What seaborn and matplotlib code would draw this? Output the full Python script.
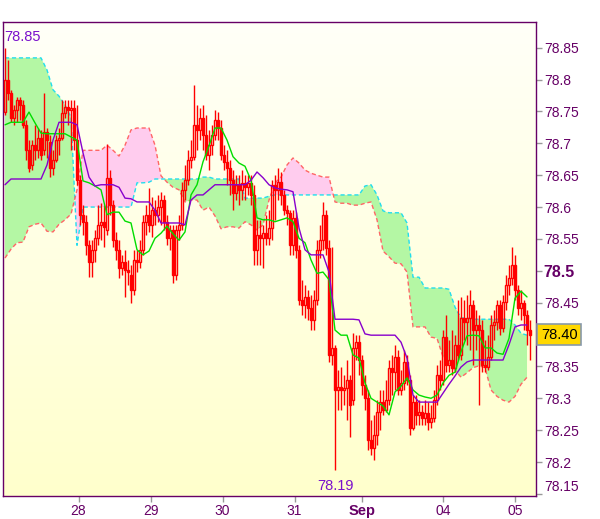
import numpy as np
import matplotlib
matplotlib.use("Agg")
import matplotlib.pyplot as plt
import matplotlib.transforms as mtransforms
from matplotlib.colors import LinearSegmentedColormap
import seaborn as sns

# hourly bars, 27 Aug - 05 Sep (bar index 0..175)
opens = [
    78.749, 78.799, 78.779, 78.740, 78.752, 78.768, 78.760, 78.729, 78.689, 78.666,
    78.697, 78.689, 78.708, 78.689, 78.718, 78.702, 78.661, 78.674, 78.705, 78.708,
    78.748, 78.757, 78.752, 78.755, 78.705, 78.642, 78.588, 78.577, 78.540, 78.514,
    78.533, 78.551, 78.572, 78.577, 78.564, 78.646, 78.603, 78.548, 78.533, 78.504,
    78.514, 78.501, 78.493, 78.470, 78.517, 78.514, 78.533, 78.577, 78.588, 78.572,
    78.595, 78.588, 78.600, 78.611, 78.577, 78.551, 78.564, 78.493, 78.564, 78.572,
    78.627, 78.642, 78.674, 78.679, 78.729, 78.721, 78.740, 78.713, 78.682, 78.697,
    78.713, 78.737, 78.724, 78.682, 78.671, 78.661, 78.642, 78.622, 78.635, 78.627,
    78.638, 78.631, 78.638, 78.619, 78.533, 78.556, 78.551, 78.559, 78.551, 78.567,
    78.635, 78.627, 78.639, 78.619, 78.595, 78.591, 78.540, 78.583, 78.533, 78.454,
    78.446, 78.459, 78.442, 78.423, 78.454, 78.533, 78.548, 78.588, 78.536, 78.368,
    78.379, 78.313, 78.318, 78.313, 78.316, 78.329, 78.297, 78.379, 78.388, 78.360,
    78.321, 78.300, 78.234, 78.222, 78.242, 78.278, 78.294, 78.282, 78.297, 78.347,
    78.341, 78.365, 78.313, 78.324, 78.357, 78.329, 78.253, 78.294, 78.274, 78.278,
    78.269, 78.277, 78.263, 78.269, 78.297, 78.336, 78.329, 78.396, 78.352, 78.360,
    78.347, 78.384, 78.368, 78.426, 78.420, 78.426, 78.446, 78.407, 78.415, 78.407,
    78.352, 78.349, 78.365, 78.415, 78.420, 78.446, 78.410, 78.451, 78.478, 78.489,
    78.509, 78.470, 78.442, 78.449, 78.431, 78.407,
]
highs = [
    78.850, 78.831, 78.784, 78.760, 78.773, 78.773, 78.768, 78.737, 78.705, 78.705,
    78.729, 78.724, 78.721, 78.779, 78.724, 78.713, 78.689, 78.713, 78.724, 78.768,
    78.768, 78.768, 78.768, 78.768, 78.760, 78.650, 78.603, 78.588, 78.548, 78.548,
    78.564, 78.603, 78.606, 78.603, 78.699, 78.658, 78.611, 78.561, 78.548, 78.525,
    78.533, 78.517, 78.509, 78.533, 78.533, 78.548, 78.588, 78.603, 78.630, 78.616,
    78.611, 78.619, 78.624, 78.619, 78.588, 78.572, 78.572, 78.572, 78.588, 78.639,
    78.666, 78.689, 78.705, 78.792, 78.760, 78.755, 78.760, 78.744, 78.721, 78.729,
    78.752, 78.749, 78.737, 78.697, 78.689, 78.674, 78.658, 78.650, 78.650, 78.658,
    78.650, 78.650, 78.650, 78.635, 78.580, 78.580, 78.572, 78.588, 78.595, 78.642,
    78.650, 78.661, 78.655, 78.627, 78.603, 78.595, 78.595, 78.592, 78.540, 78.486,
    78.478, 78.470, 78.462, 78.470, 78.548, 78.572, 78.608, 78.595, 78.548, 78.537,
    78.384, 78.344, 78.349, 78.336, 78.360, 78.336, 78.402, 78.399, 78.399, 78.368,
    78.336, 78.313, 78.266, 78.274, 78.297, 78.313, 78.313, 78.329, 78.360, 78.368,
    78.384, 78.376, 78.344, 78.376, 78.368, 78.336, 78.305, 78.305, 78.297, 78.289,
    78.297, 78.294, 78.289, 78.313, 78.352, 78.360, 78.407, 78.431, 78.391, 78.407,
    78.399, 78.454, 78.459, 78.454, 78.462, 78.470, 78.454, 78.438, 78.431, 78.423,
    78.391, 78.399, 78.431, 78.438, 78.454, 78.454, 78.462, 78.493, 78.509, 78.537,
    78.525, 78.478, 78.470, 78.454, 78.438, 78.423,
]
lows = [
    78.744, 78.768, 78.733, 78.729, 78.733, 78.737, 78.724, 78.674, 78.655, 78.658,
    78.674, 78.677, 78.674, 78.682, 78.677, 78.647, 78.650, 78.671, 78.682, 78.705,
    78.740, 78.729, 78.689, 78.689, 78.635, 78.572, 78.556, 78.525, 78.490, 78.490,
    78.514, 78.540, 78.548, 78.537, 78.556, 78.588, 78.537, 78.517, 78.489, 78.493,
    78.459, 78.478, 78.449, 78.462, 78.498, 78.504, 78.525, 78.556, 78.561, 78.553,
    78.572, 78.577, 78.572, 78.564, 78.540, 78.533, 78.481, 78.486, 78.548, 78.564,
    78.611, 78.635, 78.661, 78.674, 78.689, 78.705, 78.689, 78.674, 78.658, 78.682,
    78.705, 78.705, 78.674, 78.658, 78.635, 78.619, 78.595, 78.611, 78.603, 78.611,
    78.611, 78.619, 78.603, 78.509, 78.509, 78.509, 78.504, 78.540, 78.540, 78.548,
    78.580, 78.611, 78.603, 78.588, 78.572, 78.525, 78.525, 78.520, 78.446, 78.431,
    78.426, 78.423, 78.407, 78.407, 78.446, 78.520, 78.533, 78.525, 78.357, 78.352,
    78.187, 78.282, 78.282, 78.289, 78.266, 78.239, 78.289, 78.360, 78.336, 78.305,
    78.282, 78.219, 78.211, 78.203, 78.227, 78.250, 78.274, 78.278, 78.289, 78.305,
    78.313, 78.305, 78.305, 78.313, 78.321, 78.242, 78.250, 78.258, 78.258, 78.258,
    78.258, 78.250, 78.253, 78.263, 78.289, 78.313, 78.321, 78.341, 78.341, 78.336,
    78.341, 78.360, 78.360, 78.391, 78.384, 78.376, 78.352, 78.376, 78.289, 78.341,
    78.341, 78.344, 78.360, 78.391, 78.407, 78.399, 78.404, 78.438, 78.462, 78.478,
    78.454, 78.431, 78.423, 78.407, 78.384, 78.360,
]
closes = [
    78.799, 78.779, 78.740, 78.752, 78.768, 78.760, 78.729, 78.689, 78.661, 78.697,
    78.689, 78.708, 78.682, 78.718, 78.705, 78.661, 78.674, 78.705, 78.708, 78.748,
    78.757, 78.752, 78.755, 78.705, 78.642, 78.588, 78.577, 78.540, 78.514, 78.533,
    78.551, 78.572, 78.577, 78.569, 78.646, 78.603, 78.548, 78.533, 78.504, 78.514,
    78.501, 78.498, 78.470, 78.517, 78.514, 78.533, 78.577, 78.588, 78.572, 78.595,
    78.588, 78.600, 78.611, 78.577, 78.551, 78.564, 78.493, 78.564, 78.572, 78.627,
    78.642, 78.674, 78.679, 78.729, 78.721, 78.740, 78.713, 78.682, 78.697, 78.713,
    78.737, 78.724, 78.682, 78.671, 78.661, 78.642, 78.622, 78.635, 78.627, 78.638,
    78.631, 78.638, 78.619, 78.533, 78.556, 78.551, 78.559, 78.551, 78.567, 78.635,
    78.627, 78.639, 78.619, 78.595, 78.591, 78.540, 78.583, 78.533, 78.454, 78.446,
    78.459, 78.442, 78.423, 78.454, 78.533, 78.548, 78.588, 78.536, 78.368, 78.379,
    78.313, 78.318, 78.313, 78.316, 78.329, 78.289, 78.379, 78.388, 78.360, 78.321,
    78.300, 78.234, 78.222, 78.242, 78.278, 78.294, 78.282, 78.297, 78.347, 78.341,
    78.365, 78.313, 78.324, 78.357, 78.329, 78.253, 78.294, 78.274, 78.278, 78.269,
    78.277, 78.263, 78.269, 78.297, 78.336, 78.329, 78.396, 78.352, 78.360, 78.347,
    78.384, 78.368, 78.426, 78.420, 78.426, 78.446, 78.407, 78.415, 78.407, 78.352,
    78.349, 78.365, 78.415, 78.420, 78.446, 78.410, 78.451, 78.478, 78.489, 78.509,
    78.470, 78.442, 78.449, 78.431, 78.407, 78.400,
]

# ichimoku lines, one value every 2nd bar
tenkan = [
    78.729, 78.733, 78.733, 78.733, 78.749, 78.732, 78.716, 78.715, 78.715, 78.715,
    78.715, 78.710, 78.705, 78.641, 78.638, 78.633, 78.627, 78.588, 78.592, 78.592,
    78.578, 78.575, 78.533, 78.525, 78.531, 78.551, 78.559, 78.570, 78.558, 78.548,
    78.561, 78.619, 78.635, 78.671, 78.696, 78.724, 78.724, 78.705, 78.679, 78.669,
    78.664, 78.642, 78.583, 78.580, 78.580, 78.577, 78.580, 78.583, 78.577, 78.551,
    78.544, 78.517, 78.496, 78.498, 78.486, 78.407, 78.399, 78.399, 78.368, 78.363,
    78.324, 78.300, 78.294, 78.288, 78.274, 78.310, 78.319, 78.332, 78.313, 78.305,
    78.302, 78.300, 78.305, 78.324, 78.336, 78.341, 78.373, 78.398, 78.399, 78.398,
    78.379, 78.379, 78.371, 78.369, 78.394, 78.457, 78.468, 78.459,
]
kijun = [
    78.635, 78.644, 78.644, 78.644, 78.644, 78.644, 78.644, 78.666, 78.705, 78.733,
    78.733, 78.733, 78.729, 78.685, 78.647, 78.633, 78.635, 78.635, 78.635, 78.631,
    78.614, 78.613, 78.608, 78.608, 78.608, 78.595, 78.575, 78.575, 78.575, 78.575,
    78.572, 78.611, 78.619, 78.619, 78.627, 78.635, 78.635, 78.635, 78.635, 78.635,
    78.635, 78.642, 78.655, 78.646, 78.635, 78.630, 78.628, 78.627, 78.624, 78.567,
    78.533, 78.525, 78.525, 78.525, 78.498, 78.424, 78.424, 78.424, 78.424, 78.423,
    78.401, 78.399, 78.399, 78.399, 78.399, 78.399, 78.388, 78.363, 78.305, 78.294,
    78.294, 78.294, 78.294, 78.308, 78.322, 78.335, 78.349, 78.357, 78.360, 78.360,
    78.360, 78.360, 78.360, 78.360, 78.384, 78.412, 78.415, 78.415,
]
span_a = [
    78.834, 78.834, 78.834, 78.834, 78.834, 78.834, 78.834, 78.815, 78.784, 78.774,
    78.760, 78.741, 78.540, 78.600, 78.600, 78.600, 78.600, 78.600, 78.600, 78.600,
    78.600, 78.600, 78.638, 78.638, 78.639, 78.644, 78.644, 78.644, 78.644, 78.644,
    78.644, 78.644, 78.644, 78.647, 78.647, 78.644, 78.644, 78.644, 78.644, 78.644,
    78.614, 78.614, 78.614, 78.614, 78.617, 78.619, 78.619, 78.619, 78.619, 78.619,
    78.619, 78.619, 78.619, 78.619, 78.619, 78.619, 78.619, 78.619, 78.619, 78.619,
    78.633, 78.635, 78.619, 78.594, 78.591, 78.591, 78.591, 78.575, 78.490, 78.490,
    78.473, 78.473, 78.473, 78.473, 78.471, 78.443, 78.426, 78.426, 78.424, 78.424,
    78.424, 78.424, 78.424, 78.424, 78.424, 78.415, 78.402, 78.399,
]
span_b = [
    78.520, 78.534, 78.544, 78.545, 78.569, 78.573, 78.575, 78.562, 78.561, 78.573,
    78.580, 78.589, 78.627, 78.689, 78.689, 78.689, 78.689, 78.697, 78.689, 78.680,
    78.697, 78.721, 78.724, 78.724, 78.724, 78.697, 78.649, 78.639, 78.631, 78.627,
    78.608, 78.611, 78.611, 78.595, 78.600, 78.586, 78.566, 78.569, 78.569, 78.567,
    78.577, 78.572, 78.564, 78.572, 78.611, 78.638, 78.647, 78.666, 78.677, 78.669,
    78.658, 78.653, 78.650, 78.647, 78.647, 78.608, 78.606, 78.606, 78.603, 78.603,
    78.606, 78.608, 78.580, 78.531, 78.522, 78.512, 78.511, 78.498, 78.412, 78.412,
    78.412, 78.396, 78.394, 78.365, 78.357, 78.344, 78.333, 78.340, 78.348, 78.351,
    78.348, 78.313, 78.303, 78.297, 78.294, 78.303, 78.322, 78.333,
]

day_ticks = [24.5, 48.5, 72.5, 96.5, 119, 146, 170]
day_labels = ['28', '29', '30', '31', 'Sep', '04', '05']
price_ticks = [78.15, 78.20, 78.25, 78.30, 78.35, 78.40, 78.45, 78.50,
               78.55, 78.60, 78.65, 78.70, 78.75, 78.80, 78.85]

RED = '#FF0000'
TEXT = '#660066'
LABEL = '#7A10CC'

sns.set_style("white")
plt.rcParams['font.family'] = ['Liberation Sans', 'DejaVu Sans']

fig = plt.figure(figsize=(6, 5.19), dpi=100)
ax = fig.add_axes([3 / 600, 23 / 519, 532.5 / 600, 474 / 519])

xlim = (-0.67, 176.83)
ylim = (78.1467, 78.8903)

# pale yellow gradient background
grad = np.linspace(0, 1, 256).reshape(-1, 1)
bg = LinearSegmentedColormap.from_list('bg', ['#FFFFF8', '#FFFFCC'])
ax.imshow(grad, cmap=bg, aspect='auto', extent=(xlim[0], xlim[1], ylim[0], ylim[1]), zorder=0)

# cloud
lx = np.arange(0, len(closes), 2)
a = np.array(span_a)
b = np.array(span_b)
ax.fill_between(lx, a, b, where=a >= b, interpolate=True, color='#B4F7A4', lw=0, zorder=1)
ax.fill_between(lx, a, b, where=a < b, interpolate=True, color='#FFCCEE', lw=0, zorder=1)
ax.plot(lx, a, color='#22DDEE', lw=1, dashes=(3, 2), zorder=2)
ax.plot(lx, b, color='#FF6666', lw=1, dashes=(3, 2), zorder=2)

# candles
idx = np.arange(len(closes))
o = np.array(opens)
c = np.array(closes)
h = np.array(highs)
l = np.array(lows)
lo = np.minimum(o, c)
hi = np.maximum(o, c)
ax.vlines(idx, l, lo, color=RED, lw=1, zorder=3)
ax.vlines(idx, hi, h, color=RED, lw=1, zorder=3)
up = c >= o
ax.bar(idx[up], (hi - lo)[up], bottom=lo[up], width=0.9, facecolor='none',
       edgecolor=RED, linewidth=1, zorder=3)
ax.bar(idx[~up], (hi - lo)[~up], bottom=lo[~up], width=0.9, facecolor=RED,
       edgecolor=RED, linewidth=1, zorder=3)

# conversion / base lines
sns.lineplot(x=lx, y=tenkan, ax=ax, color='#00DD00', linewidth=1.0, zorder=4)
sns.lineplot(x=lx, y=kijun, ax=ax, color='#8800CC', linewidth=1.0, zorder=4)

ax.set_xlim(*xlim)
ax.set_ylim(*ylim)
ax.set_xlabel('')
ax.set_ylabel('')

# axes styling
for s in ax.spines.values():
    s.set_color(TEXT)
    s.set_linewidth(1)
    s.set_visible(True)

ax.yaxis.tick_right()
ax.set_yticks(price_ticks)
ylabels = []
for p in price_ticks:
    ylabels.append('' if abs(p - 78.40) < 1e-6 else f"{p:g}")
ax.set_yticklabels(ylabels)
ax.tick_params(axis='y', direction='out', length=4, width=1, color='#999999',
               labelcolor=TEXT, labelsize=10, pad=2, right=True, left=False)
for t, p in zip(ax.get_yticklabels(), price_ticks):
    if abs(p - 78.50) < 1e-6:
        t.set_fontweight('bold')
        t.set_fontsize(11.5)
    if abs(p - 78.15) < 1e-6:
        t.set_va('bottom')

ax.set_xticks(day_ticks)
ax.set_xticklabels(day_labels)
ax.tick_params(axis='x', direction='out', length=4, width=1, color='#999999',
               labelcolor=TEXT, labelsize=10, pad=2, bottom=True)
for t in ax.get_xticklabels():
    if t.get_text() == 'Sep':
        t.set_fontweight('bold')
        t.set_fontsize(10.5)

# range labels
ax.text(0.002, 0.968, f"{max(highs):.2f}", transform=ax.transAxes, color=LABEL,
        fontsize=10.5, ha='left', va='center', zorder=6)
low_i = int(np.argmin(lows))
tr = mtransforms.blended_transform_factory(ax.transData, ax.transAxes)
ax.text(low_i, 0.021, f"{min(lows):.2f}", transform=tr, color=LABEL,
        fontsize=10.5, ha='center', va='center', zorder=6)

# last price box
tr2 = mtransforms.blended_transform_factory(ax.transAxes, ax.transData)
ax.text(1.0103, closes[-1], f"{closes[-1]:.2f}", transform=tr2, color='black',
        fontsize=10.5, ha='left', va='center', clip_on=False, zorder=6,
        bbox=dict(boxstyle='square,pad=0.25', fc='#FFD800', ec='#8899AA', lw=1.2))

fig.savefig('out.png', dpi=100)
